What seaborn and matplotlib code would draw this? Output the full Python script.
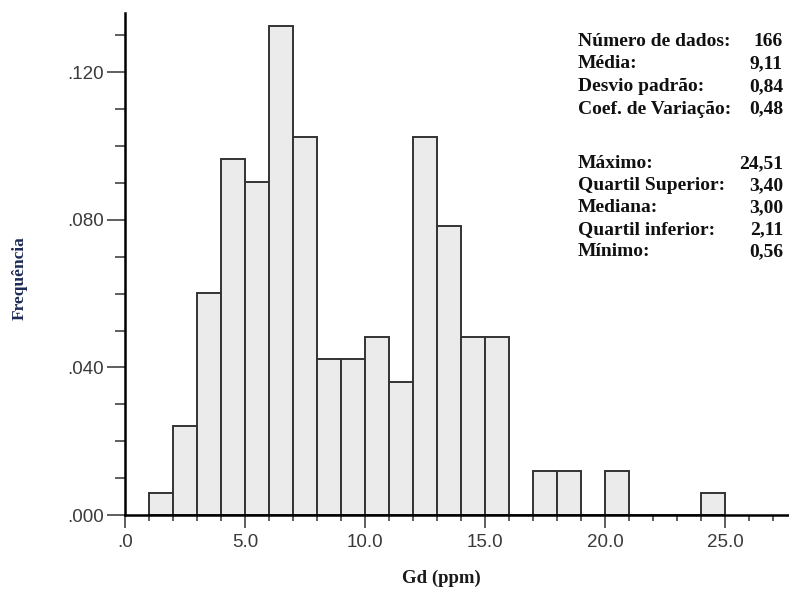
import numpy as np
import pandas as pd
import matplotlib
matplotlib.use("Agg")
import matplotlib.pyplot as plt
import seaborn as sns

# ---- data ----
bin_left = [1, 2, 3, 4, 5, 6, 7, 8, 9, 10, 11, 12, 13, 14, 15, 16, 17, 18, 19, 20, 21, 22, 23, 24]
counts   = [1, 4, 10, 16, 15, 22, 17, 7, 7, 8, 6, 17, 13, 8, 8, 0, 2, 2, 0, 2, 0, 0, 0, 1]
n_total = 166
y_ticks = [0.0, 0.04, 0.08, 0.12]
y_ticklabels = [".000", ".040", ".080", ".120"]
x_ticks = [0, 5, 10, 15, 20, 25]
x_ticklabels = [".0", "5.0", "10.0", "15.0", "20.0", "25.0"]
stat_labels_1 = ["Número de dados:", "Média:", "Desvio padrão:", "Coef. de Variação:"]
stat_values_1 = ["166", "9,11", "0,84", "0,48"]
stat_labels_2 = ["Máximo:", "Quartil Superior:", "Mediana:", "Quartil inferior:", "Mínimo:"]
stat_values_2 = ["24,51", "3,40", "3,00", "2,11", "0,56"]

df = pd.DataFrame({"x": [b + 0.5 for b in bin_left],
                   "freq": [c / n_total for c in counts]})
edges = bin_left + [bin_left[-1] + 1]

sns.set_style("white")
fig = plt.figure(figsize=(7.89, 5.92), dpi=100)
ax = fig.add_axes([125/789, 77/592, 664/789, 502/592])

sns.histplot(data=df, x="x", weights="freq", bins=edges, ax=ax,
             color="#ebebeb", edgecolor="#333333", linewidth=1.4, alpha=1.0)

ax.set_xlim(0, 664/24)
ax.set_ylim(0, 502/3690)

for s in ["top", "right"]:
    ax.spines[s].set_visible(False)
for s in ["left", "bottom"]:
    ax.spines[s].set_color("black")
    ax.spines[s].set_linewidth(1.8)

tick_font = dict(family="Liberation Sans", size=13.5, color="#3a3a3a")
ax.set_yticks(y_ticks)
ax.set_yticklabels(y_ticklabels, **tick_font)
ax.set_yticks(np.arange(0, 0.1351, 0.01), minor=True)
ax.set_xticks(x_ticks)
ax.set_xticklabels(x_ticklabels, **tick_font)
ax.set_xticks(np.arange(0, 27.5, 1), minor=True)

ax.tick_params(axis="y", which="major", length=13, width=1.1, color="#333333", pad=2, direction="out", left=True)
ax.tick_params(axis="y", which="minor", length=7, width=1.1, color="#333333", direction="out", left=True)
ax.tick_params(axis="x", which="major", length=9, width=1.1, color="#333333", pad=5, direction="out", bottom=True)
ax.tick_params(axis="x", which="minor", length=4.5, width=1.1, color="#333333", direction="out", bottom=True)

ax.set_ylabel("")
ax.set_xlabel("")
fig.text(20/789, 1 - 278/592, "Frequência", rotation=90, ha="center", va="center",
         family="Liberation Serif", weight="bold", size=12.5, color="#1c2a55")
fig.text(441/789, 1 - 578/592, "Gd (ppm)", ha="center", va="center",
         family="Liberation Serif", weight="bold", size=13.5, color="#1a1a1a")

stat_font = dict(family="Liberation Serif", weight="bold", size=14, color="#111111")
base1 = [46, 68.5, 91, 113.5]
base2 = [168, 190, 212, 234, 256]
for y, lab, val in zip(base1, stat_labels_1, stat_values_1):
    fig.text(578/789, 1 - y/592, lab, ha="left", va="baseline", **stat_font)
    fig.text(783/789, 1 - y/592, val, ha="right", va="baseline", **stat_font)
for y, lab, val in zip(base2, stat_labels_2, stat_values_2):
    fig.text(578/789, 1 - y/592, lab, ha="left", va="baseline", **stat_font)
    fig.text(783/789, 1 - y/592, val, ha="right", va="baseline", **stat_font)

fig.savefig("out.png", dpi=100)
